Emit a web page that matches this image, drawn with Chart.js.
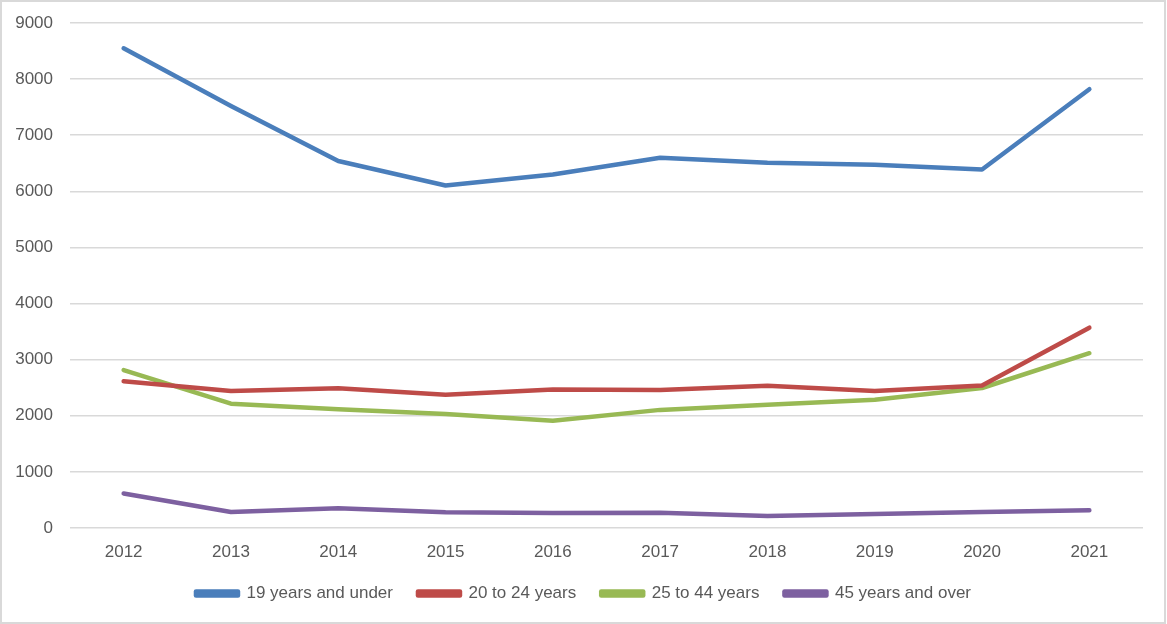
<!DOCTYPE html>
<html>
<head>
<meta charset="utf-8">
<script src="https://cdn.jsdelivr.net/npm/chart.js@4/dist/chart.umd.min.js"></script>
<style>
  html, body { margin: 0; padding: 0; background: #ffffff; }
  #wrap { width: 1167px; height: 624px; position: relative; }
</style>
</head>
<body>
<div id="wrap"><canvas id="c" width="1167" height="624"></canvas></div>
<script>
const years = ['2012','2013','2014','2015','2016','2017','2018','2019','2020','2021'];
const under19 = [8550, 7520, 6540, 6105, 6300, 6600, 6510, 6475, 6390, 7820];
const age20to24 = [2615, 2440, 2490, 2375, 2470, 2460, 2535, 2440, 2540, 3570];
const age25to44 = [2815, 2215, 2115, 2030, 1910, 2105, 2195, 2285, 2495, 3115];
const age45plus = [615, 285, 350, 280, 268, 272, 214, 250, 285, 315];
const seriesNames = ['19 years and under', '20 to 24 years', '25 to 44 years', '45 years and over'];
const yTicks = [0, 1000, 2000, 3000, 4000, 5000, 6000, 7000, 8000, 9000];

const colors = ['#4A7EBB', '#BE4B48', '#98B954', '#7D60A0'];
const seriesData = [under19, age20to24, age25to44, age45plus];

const bgPlugin = {
  id: 'bgAndBorder',
  beforeDraw(chart) {
    const ctx = chart.ctx;
    ctx.save();
    ctx.fillStyle = '#ffffff';
    ctx.fillRect(0, 0, chart.width, chart.height);
    ctx.restore();
  },
  afterDraw(chart) {
    const ctx = chart.ctx;
    ctx.save();
    ctx.strokeStyle = '#d9d9d9';
    ctx.lineWidth = 2;
    ctx.strokeRect(1, 1, chart.width - 3, chart.height - 2);
    ctx.restore();
  }
};

const FONT = { family: '"Liberation Sans", Arial, sans-serif', size: 17 };

new Chart(document.getElementById('c'), {
  type: 'line',
  data: {
    labels: years,
    datasets: seriesData.map((d, i) => ({
      label: seriesNames[i],
      data: d,
      borderColor: colors[i],
      backgroundColor: colors[i],
      borderWidth: 4.5,
      pointRadius: 0,
      pointHoverRadius: 0,
      tension: 0,
      borderCapStyle: 'round',
      borderJoinStyle: 'round',
      fill: false
    }))
  },
  options: {
    responsive: false,
    animation: false,
    layout: { padding: { top: 23, right: 0, bottom: 12, left: 0 } },
    plugins: {
      legend: {
        position: 'bottom',
        labels: {
          boxWidth: 42,
          boxHeight: 4,
          padding: 25,
          color: '#595959',
          font: FONT
        }
      },
      tooltip: { enabled: false }
    },
    scales: {
      x: {
        offset: true,
        grid: { display: false, drawTicks: false },
        border: { display: false },
        ticks: { color: '#595959', font: FONT, padding: 14, maxRotation: 0 },
        afterFit(s) { s.height = 32; }
      },
      y: {
        min: 0,
        max: 9000,
        afterBuildTicks(s) { s.ticks = yTicks.map(v => ({ value: v })); },
        grid: { color: '#d9d9d9', lineWidth: 1.5, drawTicks: false },
        border: { display: false },
        ticks: { color: '#595959', font: FONT, padding: 17, callback: v => String(v) },
        afterFit(s) { s.width = 70; s.paddingTop = 0; s.paddingBottom = 0; }
      },
      ySpacer: {
        position: 'right',
        min: 0,
        max: 9000,
        grid: { display: false, drawTicks: false },
        border: { display: false },
        ticks: { display: false },
        afterFit(s) { s.width = 24; s.paddingTop = 0; s.paddingBottom = 0; }
      }
    }
  },
  plugins: [bgPlugin]
});
</script>
</body>
</html>
